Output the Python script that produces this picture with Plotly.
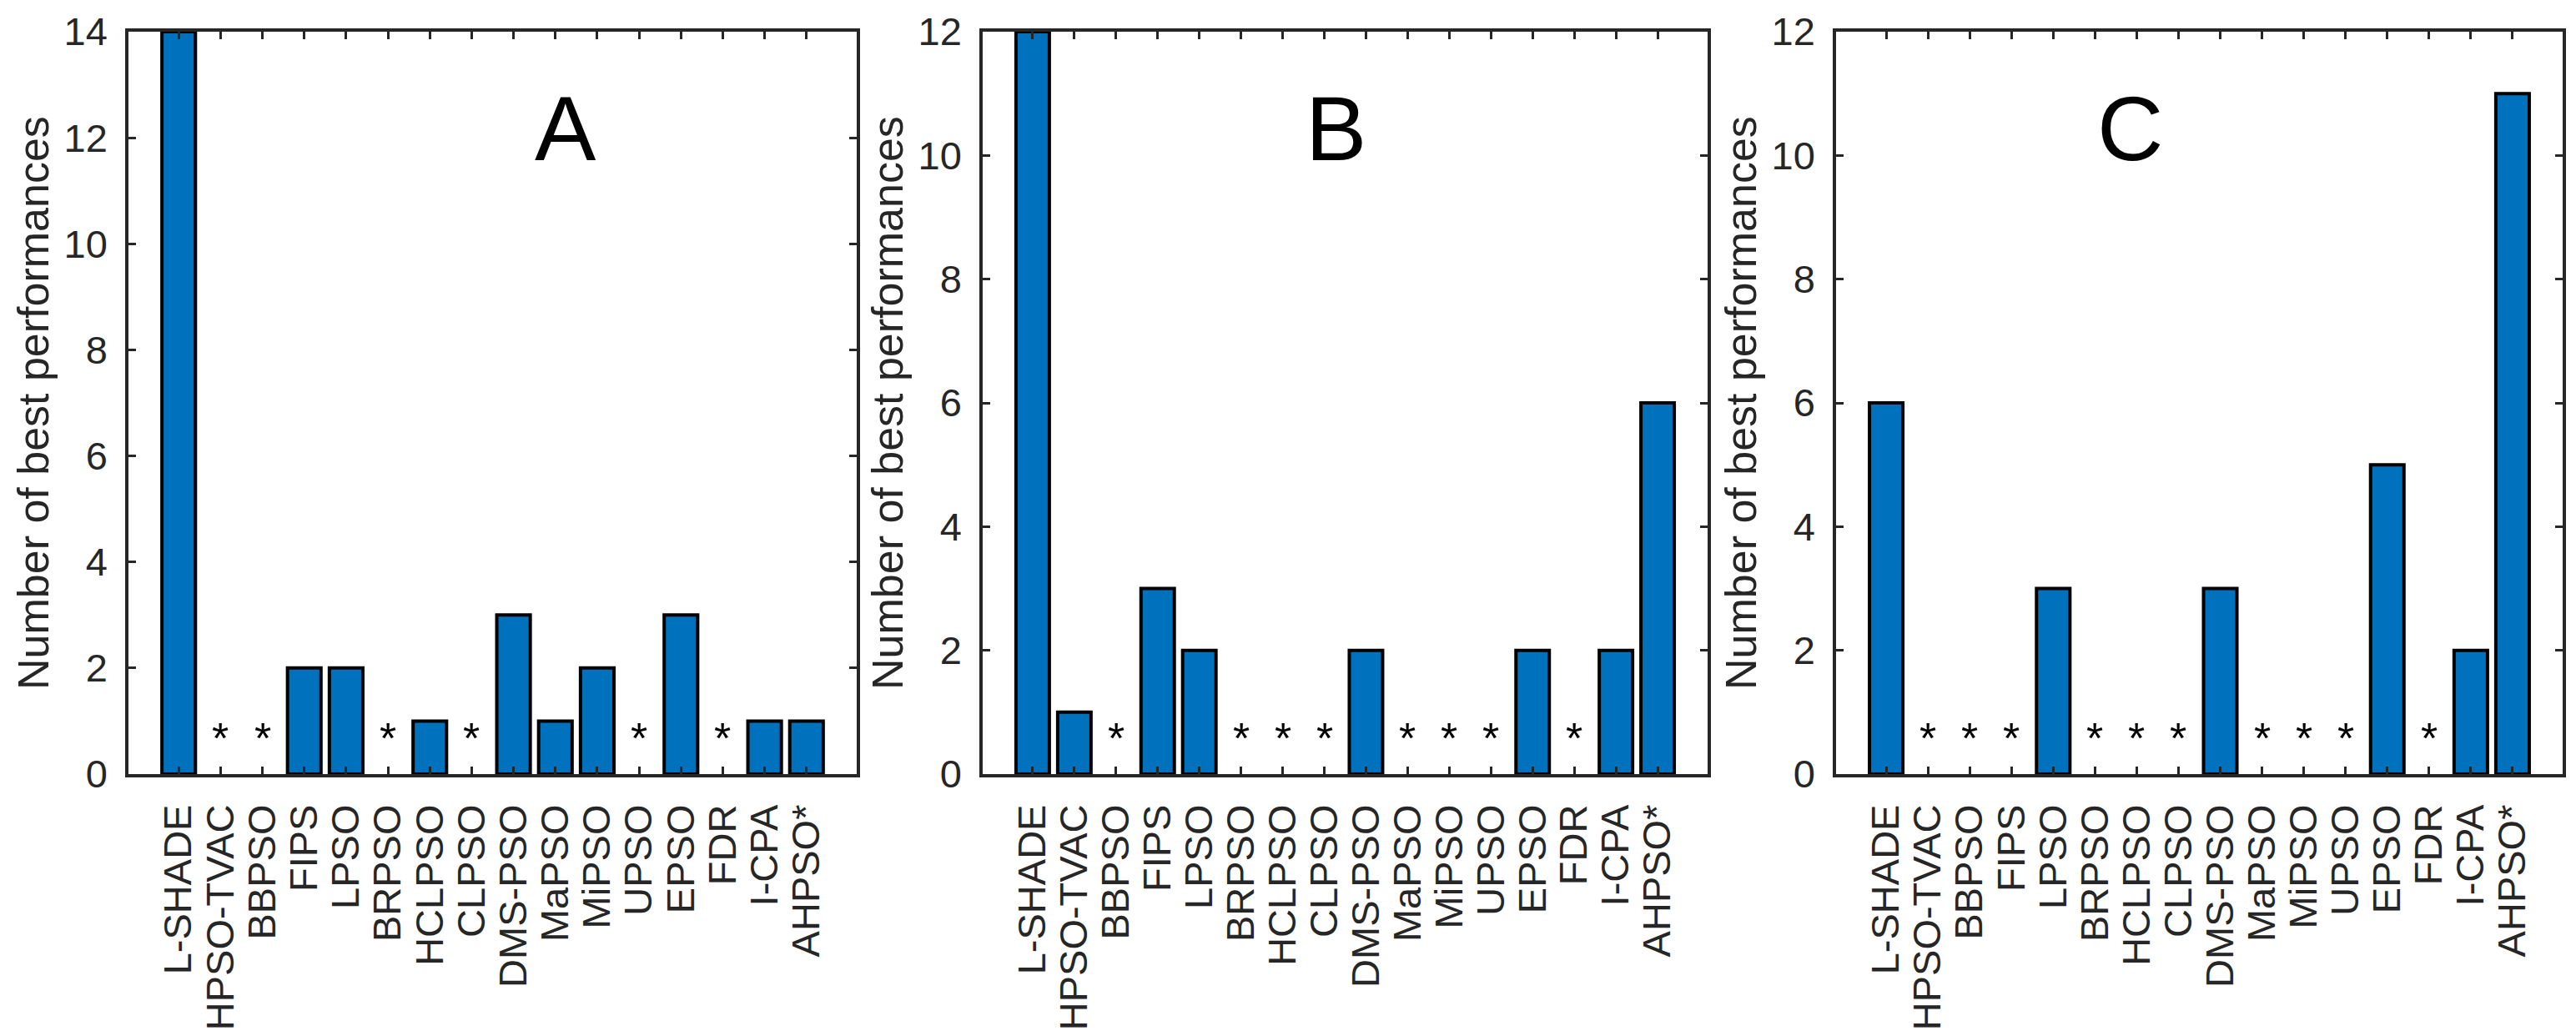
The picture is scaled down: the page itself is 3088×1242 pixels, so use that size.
import plotly.graph_objects as go

# algorithms compared, same order in every panel
algorithms = ["L-SHADE", "HPSO-TVAC", "BBPSO", "FIPS", "LPSO", "BRPSO", "HCLPSO", "CLPSO",
              "DMS-PSO", "MaPSO", "MiPSO", "UPSO", "EPSO", "FDR", "I-CPA", "AHPSO*"]

# number of best performances per panel
best_a = [14, 0, 0, 2, 2, 0, 1, 0, 3, 1, 2, 0, 3, 0, 1, 1]
best_b = [12, 1, 0, 3, 2, 0, 0, 0, 2, 0, 0, 0, 2, 0, 2, 6]
best_c = [6, 0, 0, 0, 3, 0, 0, 0, 3, 0, 0, 0, 5, 0, 2, 11]

panel_letters = ["A", "B", "C"]
y_max = [14, 12, 12]
y_ticks = [0, 2, 4, 6, 8, 10, 12, 14]

W, H = 3088, 1242
FONT = "Liberation Sans, Arial, Helvetica, sans-serif"
AX_COL = "#262626"
BAR_COL = "#0072BD"

# pixel positions of each plot box (left, right)
boxes = [(146, 1019), (1170, 2039), (2193, 3064)]
top_px, bottom_px = 30, 920
letter_pos = [0.60, 0.487, 0.405]

fig = go.Figure()
annotations = []

for i, vals in enumerate([best_a, best_b, best_c]):
    n = "" if i == 0 else str(i + 1)
    xa, ya = "x" + n, "y" + n
    fig.add_trace(go.Bar(
        x=list(range(len(algorithms))), y=vals, width=0.8,
        marker=dict(color=BAR_COL,
                    line=dict(color="black", width=[4 if v > 0 else 0 for v in vals])),
        xaxis=xa, yaxis=ya, showlegend=False, hoverinfo="x+y"))

    left, right = boxes[i]
    fig.layout["xaxis" + n] = dict(
        domain=[left / W, right / W], anchor=ya,
        range=[-1.2, len(algorithms) - 1 + 1.2],
        tickmode="array", tickvals=list(range(len(algorithms))), ticktext=algorithms,
        tickangle=-90, ticks="inside", ticklen=9, tickwidth=3, tickcolor=AX_COL,
        showline=True, linewidth=3.5, linecolor=AX_COL, mirror="ticks",
        showgrid=False, zeroline=False, automargin=False,
        tickfont=dict(family=FONT, size=47, color=AX_COL), ticklabelstandoff=14)
    fig.layout["yaxis" + n] = dict(
        domain=[1 - bottom_px / H, 1 - top_px / H], anchor=xa,
        range=[0, y_max[i]], tickmode="array",
        tickvals=[t for t in y_ticks if t <= y_max[i]],
        ticks="inside", ticklen=9, tickwidth=3, tickcolor=AX_COL,
        showline=True, linewidth=3.5, linecolor=AX_COL, mirror="ticks",
        showgrid=False, zeroline=False, automargin=False,
        tickfont=dict(family=FONT, size=47, color=AX_COL), ticklabelstandoff=12)

    # y axis title
    annotations.append(dict(
        text="Number of best performances", textangle=-90, showarrow=False,
        xref="paper", yref="paper", x=(left - 114) / W, y=1 - (top_px + bottom_px) / 2 / H,
        xanchor="center", yanchor="middle",
        font=dict(family=FONT, size=52, color=AX_COL)))
    # panel letter
    annotations.append(dict(
        text=panel_letters[i], showarrow=False,
        xref=xa + " domain", yref=ya + " domain", x=letter_pos[i], y=0.87,
        xanchor="center", yanchor="middle",
        font=dict(family=FONT, size=110, color="black")))
    # asterisk above algorithms with no best performance
    for k, v in enumerate(vals):
        if v == 0:
            annotations.append(dict(
                text="*", showarrow=False, xref=xa, yref=ya + " domain",
                x=k, y=0.048, xanchor="center", yanchor="middle",
                font=dict(family=FONT, size=52, color="black")))

fig.update_layout(
    width=W, height=H, margin=dict(l=0, r=0, t=0, b=0),
    paper_bgcolor="white", plot_bgcolor="white",
    bargap=0.2, annotations=annotations)

fig.write_html("out.html")
